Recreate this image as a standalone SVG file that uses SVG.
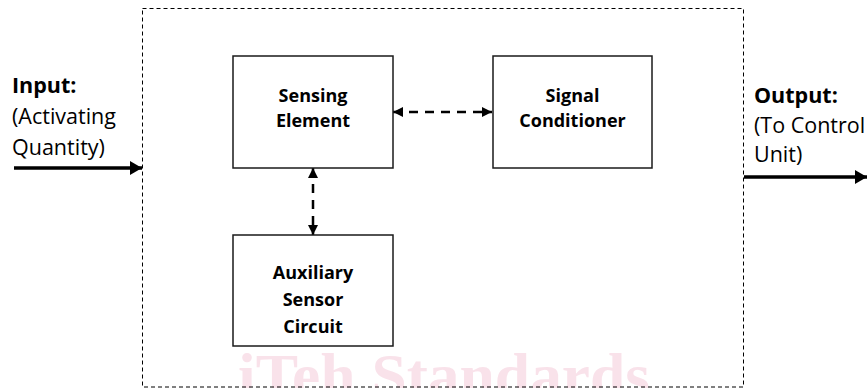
<svg xmlns="http://www.w3.org/2000/svg" width="868" height="388" viewBox="0 0 868 388">
<style>
.box{fill:#fff;stroke:#1a1a1a;stroke-width:1.5}
.lbl{font-family:"Open Sans","Liberation Sans",sans-serif;font-weight:700;font-size:18px;fill:#000;text-anchor:middle}
.io{font-family:"Open Sans","Liberation Sans",sans-serif;font-size:21.5px;fill:#000}
.iob{font-weight:700}
.dash{fill:none;stroke:#000;stroke-width:2.5;stroke-dasharray:9 7}
.solid{fill:none;stroke:#000;stroke-width:3.5}
</style>
<defs>
<marker id="ah" viewBox="0 0 10 10" refX="10" refY="5" markerWidth="10" markerHeight="10" markerUnits="userSpaceOnUse" orient="auto-start-reverse"><path d="M0,0 L10,5 L0,10 Z" fill="#000"/></marker>
<marker id="big" viewBox="0 0 12 14" refX="12" refY="7" markerWidth="12" markerHeight="14" markerUnits="userSpaceOnUse" orient="auto"><path d="M0,0 L12,7 L0,14 Z" fill="#000"/></marker>
</defs>
<rect width="868" height="388" fill="#fff"/>
<text x="238" y="396" font-family="'Liberation Serif',serif" font-weight="700" font-size="62" fill="#f9e2ea" textLength="412" lengthAdjust="spacingAndGlyphs">iTeh Standards</text>
<rect x="142.5" y="8.5" width="601" height="378.5" fill="none" stroke="#000" stroke-width="1" stroke-dasharray="4 3"/>
<g id="connectors">
<line class="solid" x1="14" y1="168" x2="142" y2="168" marker-end="url(#big)"/>
<line class="solid" x1="744" y1="177" x2="867" y2="177" marker-end="url(#big)"/>
<line class="dash" x1="393" y1="112" x2="492" y2="112" marker-start="url(#ah)" marker-end="url(#ah)"/>
<line class="dash" x1="313" y1="168" x2="313" y2="235" marker-start="url(#ah)" marker-end="url(#ah)"/>
</g>
<g id="input">
<text class="io" x="12" y="93"><tspan class="iob">Input:</tspan><tspan x="12" y="124">(Activating</tspan><tspan x="12" y="155">Quantity)</tspan></text>
</g>
<g id="output">
<text class="io" x="754" y="103"><tspan class="iob">Output:</tspan><tspan x="754" y="133">(To Control</tspan><tspan x="754" y="162">Unit)</tspan></text>
</g>
<g id="sensing">
<rect class="box" x="233" y="56" width="160" height="112"/>
<text class="lbl" x="313" y="102">Sensing<tspan x="313" y="127">Element</tspan></text>
</g>
<g id="signal">
<rect class="box" x="493" y="56" width="159" height="112"/>
<text class="lbl" x="572.5" y="102">Signal<tspan x="572.5" y="127">Conditioner</tspan></text>
</g>
<g id="auxiliary">
<rect class="box" x="233" y="235" width="160" height="111"/>
<text class="lbl" x="313" y="279">Auxiliary<tspan x="313" y="306">Sensor</tspan><tspan x="313" y="333">Circuit</tspan></text>
</g>
</svg>
